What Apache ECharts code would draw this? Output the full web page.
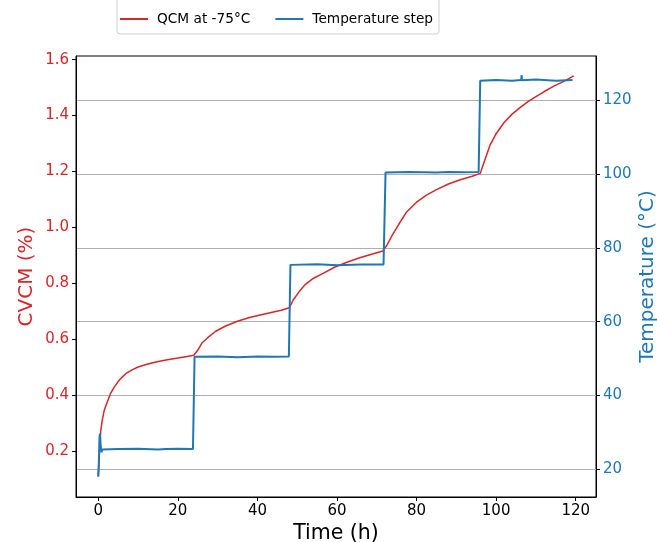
<!DOCTYPE html>
<html>
<head>
<meta charset="utf-8">
<script src="https://cdn.jsdelivr.net/npm/echarts@6/dist/echarts.min.js"></script>
<style>html,body{margin:0;padding:0;background:#fff}#c{width:657px;height:542px}</style>
</head>
<body>
<div id="c"></div>
<script>
// Data
var qcmTime = [0.0,0.2,0.4,0.6,1.0,1.5,2.0,3.0,4.0,5.0,6.0,7.0,8.5,10,12,14.5,17,20,22,24,25,26,27.5,29.5,32,35,38,41,44,46,48,49,50.5,52,54,56.5,59.5,62.5,65.5,68.5,71.5,72.5,74,75.5,77.5,80,82.5,85,88,91,94,96,97,98.5,100,102,104,106,108,110,112,114.5,117,119.5];
var qcmValue = [0.11,0.17,0.22,0.27,0.31,0.345,0.365,0.403,0.428,0.448,0.464,0.477,0.490,0.500,0.509,0.518,0.525,0.532,0.537,0.542,0.560,0.585,0.605,0.628,0.647,0.664,0.677,0.687,0.697,0.703,0.712,0.740,0.770,0.795,0.817,0.835,0.858,0.875,0.890,0.903,0.915,0.935,0.975,1.010,1.055,1.090,1.115,1.135,1.155,1.170,1.183,1.193,1.235,1.295,1.335,1.375,1.405,1.428,1.450,1.468,1.485,1.505,1.522,1.542];
var tempTime = [0,0.15,0.3,0.43,0.6,0.8,1.0,5,10,15,17,20,23.8,24.2,30,35,40,44,47.9,48.3,55,60,66,71.7,72.2,78,85,88,92,95.6,96.0,100,104,106.3,106.4,106.5,110,115,119.2];
var tempValue = [18.0,22,28.5,29.7,26.5,24.6,25.4,25.5,25.6,25.4,25.5,25.6,25.5,50.5,50.6,50.4,50.6,50.5,50.6,75.4,75.6,75.3,75.5,75.5,100.4,100.6,100.4,100.6,100.5,100.6,125.3,125.5,125.3,125.5,126.8,125.4,125.6,125.3,125.5];
var xTicks = [0,20,40,60,80,100,120];
var cvcmTicks = [0.2,0.4,0.6,0.8,1.0,1.2,1.4,1.6];
var tempTicks = [20,40,60,80,100,120];

var RED = '#d62728', BLUE = '#1f77b4';
var FONT = 'DejaVu Sans';
function pairs(a,b){return a.map(function(v,i){return [v,b[i]];});}

var chart = echarts.init(document.getElementById('c'));
chart.setOption({
  animation: false,
  textStyle: {fontFamily: FONT},
  legend: {
    left: 117, top: -2,
    padding: [14, 6, 8, 3],
    itemWidth: 28, itemHeight: 2, itemGap: 25,
    icon: 'rect',
    borderColor: '#d0d0d0', borderWidth: 1, borderRadius: 3,
    textStyle: {fontFamily: FONT, fontSize: 13.7, color: '#000', padding: [0,0,0,4]},
    data: ['QCM at -75°C', 'Temperature step']
  },
  grid: {left: 76, right: 61, top: 56, bottom: 45, show: true, borderColor: '#000', borderWidth: 1, outerBoundsMode: 'none', containLabel: false},
  xAxis: {
    type: 'value', min: -5.6, max: 125.1,
    name: 'Time (h)', nameLocation: 'middle', nameGap: 26, nameMoveOverlap: false,
    nameTextStyle: {fontFamily: FONT, fontSize: 20.5, color: '#000'},
    axisLine: {onZero: false, lineStyle: {color: '#000'}},
    axisTick: {show: true, length: 4, inside: false, customValues: xTicks, lineStyle: {color: '#000'}},
    axisLabel: {customValues: xTicks, fontFamily: FONT, fontSize: 15, color: '#000', margin: 7},
    splitLine: {show: false}
  },
  yAxis: [{
    type: 'value', position: 'left', min: 0.035, max: 1.613,
    name: 'CVCM (%)', nameLocation: 'middle', nameGap: 39, nameRotate: 90, nameMoveOverlap: false,
    nameTextStyle: {fontFamily: FONT, fontSize: 20, color: RED},
    axisLine: {show: true, onZero: false, lineStyle: {color: '#000'}},
    axisTick: {show: true, length: 4, customValues: cvcmTicks, lineStyle: {color: '#000'}},
    axisLabel: {customValues: cvcmTicks, fontFamily: FONT, fontSize: 15, color: RED, margin: 7,
      formatter: function(v){return v.toFixed(1);}},
    splitLine: {show: false}
  }, {
    type: 'value', position: 'right', min: 12.5, max: 132,
    name: 'Temperature (°C)', nameLocation: 'middle', nameGap: 42, nameRotate: 90, nameMoveOverlap: false,
    nameTextStyle: {fontFamily: FONT, fontSize: 20, color: BLUE},
    axisLine: {show: true, onZero: false, lineStyle: {color: '#000'}},
    axisTick: {show: true, length: 4, customValues: tempTicks, lineStyle: {color: '#000'}},
    axisLabel: {customValues: tempTicks, fontFamily: FONT, fontSize: 15, color: BLUE, margin: 7},
    splitLine: {show: true, lineStyle: {color: '#b0b0b0', width: 1}}
  }],
  series: [{
    name: 'QCM at -75°C', type: 'line', yAxisIndex: 0,
    data: pairs(qcmTime, qcmValue), showSymbol: false, symbol: 'none',
    itemStyle: {color: RED}, lineStyle: {color: RED, width: 1.5}, z: 2
  }, {
    name: 'Temperature step', type: 'line', yAxisIndex: 1,
    data: pairs(tempTime, tempValue), showSymbol: false, symbol: 'none',
    itemStyle: {color: BLUE}, lineStyle: {color: BLUE, width: 2}, z: 3
  }]
});
</script>
</body>
</html>
